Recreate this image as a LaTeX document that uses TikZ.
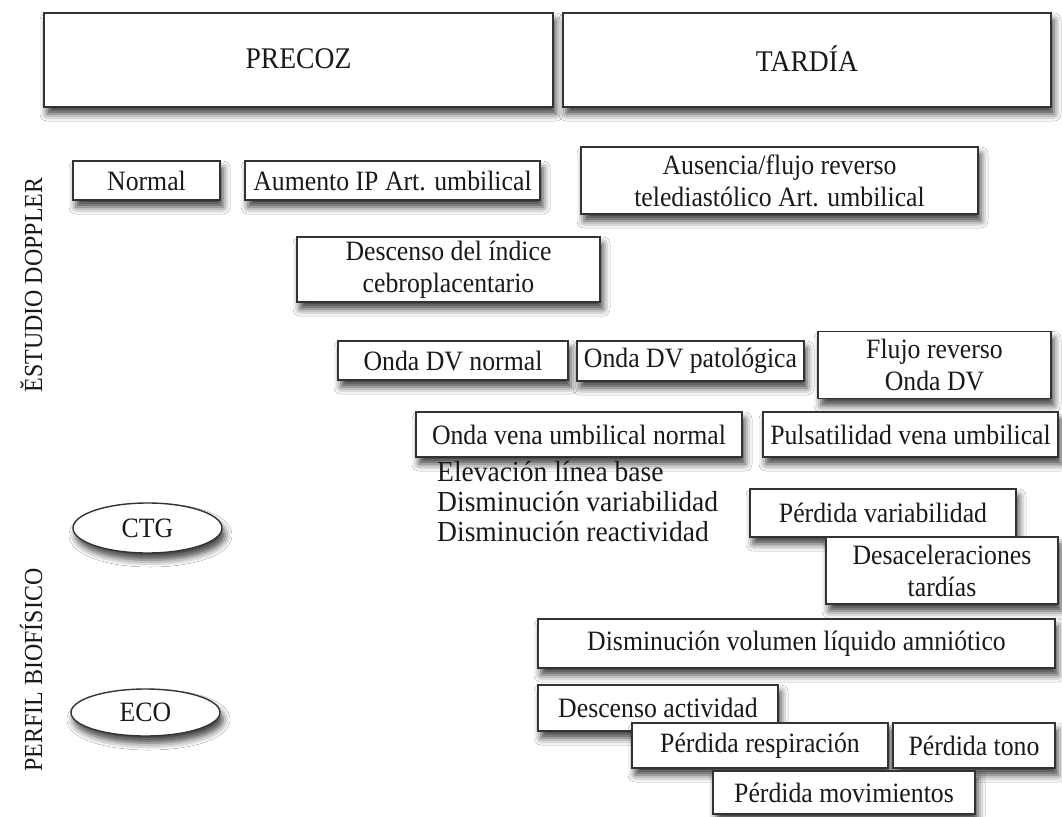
\documentclass[tikz,border=0pt]{standalone}
\usepackage{fontspec}
\setmainfont{Liberation Serif}
\newfontfamily\tallserif{Liberation Serif}[FakeStretch=0.92]
\newfontfamily\freeserif{Liberation Serif}[FakeStretch=0.95]
\usetikzlibrary{shapes.geometric,shadows.blur}
\begin{document}
\begin{tikzpicture}[x=1pt,y=-1pt,
  shd/.style={blur shadow={shadow xshift=3pt, shadow yshift=-7pt, shadow blur radius=7pt, shadow opacity=75}},
  bx/.style={draw=black!80, line width=1.6pt, fill=white, inner sep=0pt, align=center,
    text=black!90, font=\tallserif\fontsize{28}{32}\selectfont, shd},
  el/.style={ellipse, draw=black!80, line width=1.4pt, fill=white, inner sep=0pt,
    text=black!90, font=\tallserif\fontsize{28}{32}\selectfont, shd},
  title/.style={bx, font=\tallserif\fontsize{30}{34}\selectfont},
  side/.style={rotate=90, anchor=base, inner sep=0pt, text=black!90, font=\tallserif\fontsize{26}{30}\selectfont}]
\fill[white] (0,0) rectangle (1062,816);
\useasboundingbox (0,0) rectangle (1062,816);

% headers
\node[title, minimum width=509, minimum height=94] (precoz) at (298.5,60) {\raisebox{3pt}{PRECOZ}};
\node[title, minimum width=488, minimum height=94] (tardia) at (807,60) {\raisebox{2pt}{TARDÍA}};

% side labels
\node[side] (doppler) at (42,285) {ĔSTUDIO DOPPLER};
\node[side] (perfil) at (42,670) {PERFIL BIOFÍSICO};

% Doppler
\node[bx, minimum width=147, minimum height=39] (normal) at (146.5,180.5) {Normal};
\node[bx, minimum width=295, minimum height=39] (aumento) at (392.5,180.5) {Aumento IP Art. umbilical};
\node[bx, minimum width=397, minimum height=67] (ausencia) at (779.5,180.5) {Ausencia/flujo reverso\\telediastólico Art. umbilical};
\node[bx, minimum width=303, minimum height=65] (icp) at (448.5,269.5) {Descenso del índice\\cebroplacentario};
\node[bx, minimum width=230, minimum height=39] (dvnormal) at (453,360.5) {Onda DV normal};
\node[bx, minimum width=227, minimum height=40] (dvpat) at (690.5,361) {Onda DV patológica};
\node[bx, minimum width=233, minimum height=67] (dvrev) at (934.5,365) {Flujo reverso\\Onda DV};
\node[bx, minimum width=326, minimum height=45] (vunormal) at (579,434.5) {Onda vena umbilical normal};
\node[bx, minimum width=295, minimum height=45] (vupuls) at (910.5,434.5) {Pulsatilidad vena umbilical};

% Perfil biofisico
\node[el, minimum width=149, minimum height=50] (ctg) at (147.5,528) {CTG};
\node[el, minimum width=149, minimum height=47] (eco) at (145.5,712.5) {ECO};
\node[anchor=north west, align=left, inner sep=0pt, text=black!90,
  font=\freeserif\fontsize{29}{30}\selectfont] (ctgtext) at (437,461)
  {Elevación línea base\\Disminución variabilidad\\Disminución reactividad};
\node[bx, minimum width=266, minimum height=48] (perdvar) at (883,513) {Pérdida variabilidad};
\node[bx, minimum width=232, minimum height=67] (desacel) at (942,570.5) {Desaceleraciones\\tardías};
\node[bx, minimum width=517, minimum height=49] (liquido) at (796.5,643.5) {Disminución volumen líquido amniótico};
\node[bx, minimum width=240, minimum height=46] (actividad) at (658,708) {Descenso actividad};
\node[bx, minimum width=256, minimum height=45] (resp) at (760,745.5) {Pérdida respiración};
\node[bx, minimum width=162, minimum height=45] (tono) at (974,745.5) {Pérdida tono};
\node[bx, minimum width=262, minimum height=43] (movim) at (844,792.5) {Pérdida movimientos};
\end{tikzpicture}
\end{document}
